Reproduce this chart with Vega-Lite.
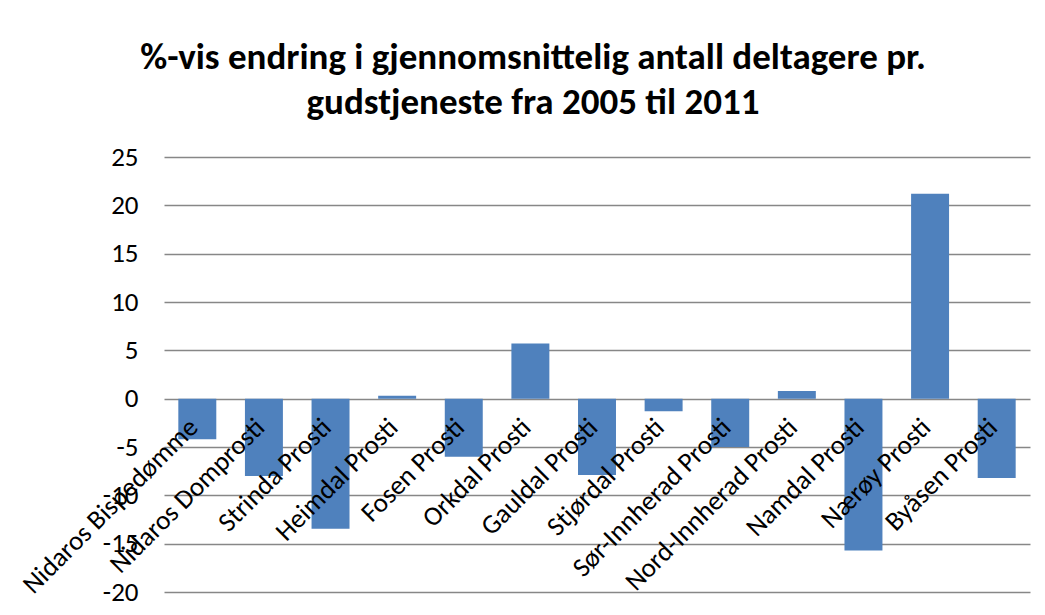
{
  "$schema": "https://vega.github.io/schema/vega-lite/v6.json",
  "width": 866,
  "height": 435,
  "autosize": {"type": "none"},
  "padding": {"left": 164, "top": 157, "right": 15, "bottom": 23},
  "background": "white",
  "title": {
    "text": ["%-vis endring i gjennomsnittelig antall deltagere pr.", "gudstjeneste fra 2005 til 2011"],
    "font": "Carlito, Lato",
    "fontSize": 37,
    "fontWeight": "bold",
    "lineHeight": 45,
    "color": "black",
    "dx": -64,
    "offset": 21
  },
  "data": {
    "values": [
      {"prosti": "Nidaros Bispedømme", "endring": -4.2},
      {"prosti": "Nidaros Domprosti", "endring": -8.0},
      {"prosti": "Strinda Prosti", "endring": -13.45},
      {"prosti": "Heimdal Prosti", "endring": 0.3},
      {"prosti": "Fosen Prosti", "endring": -6.0},
      {"prosti": "Orkdal Prosti", "endring": 5.7},
      {"prosti": "Gauldal Prosti", "endring": -7.9},
      {"prosti": "Stjørdal Prosti", "endring": -1.3},
      {"prosti": "Sør-Innherad Prosti", "endring": -5.0},
      {"prosti": "Nord-Innherad Prosti", "endring": 0.8},
      {"prosti": "Namdal Prosti", "endring": -15.7},
      {"prosti": "Nærøy Prosti", "endring": 21.2},
      {"prosti": "Byåsen Prosti", "endring": -8.2}
    ]
  },
  "encoding": {
    "x": {
      "field": "prosti",
      "type": "nominal",
      "sort": null,
      "scale": {"paddingInner": 0.43, "paddingOuter": 0.215},
      "axis": null
    }
  },
  "layer": [
    {
      "mark": {"type": "bar", "color": "#4F81BD"},
      "encoding": {
        "y": {
          "field": "endring",
          "type": "quantitative",
          "scale": {"domain": [-20, 25], "nice": false, "zero": false},
          "axis": {
            "values": [-20, -15, -10, -5, 0, 5, 10, 15, 20, 25],
            "labelExpr": "toString(datum.value)",
            "title": null,
            "grid": true,
            "gridColor": "#878787",
            "gridWidth": 1.6,
            "domain": false,
            "ticks": false,
            "labelFont": "Carlito, Lato",
            "labelFontSize": 27,
            "labelColor": "black",
            "labelPadding": 26
          }
        }
      }
    },
    {
      "mark": {
        "type": "text",
        "angle": -45,
        "align": "right",
        "baseline": "top",
        "dx": -20,
        "dy": 2,
        "font": "Carlito, Lato",
        "fontSize": 27,
        "color": "black"
      },
      "encoding": {
        "y": {"datum": 0},
        "text": {"field": "prosti"}
      }
    }
  ],
  "config": {"view": {"stroke": null}}
}
